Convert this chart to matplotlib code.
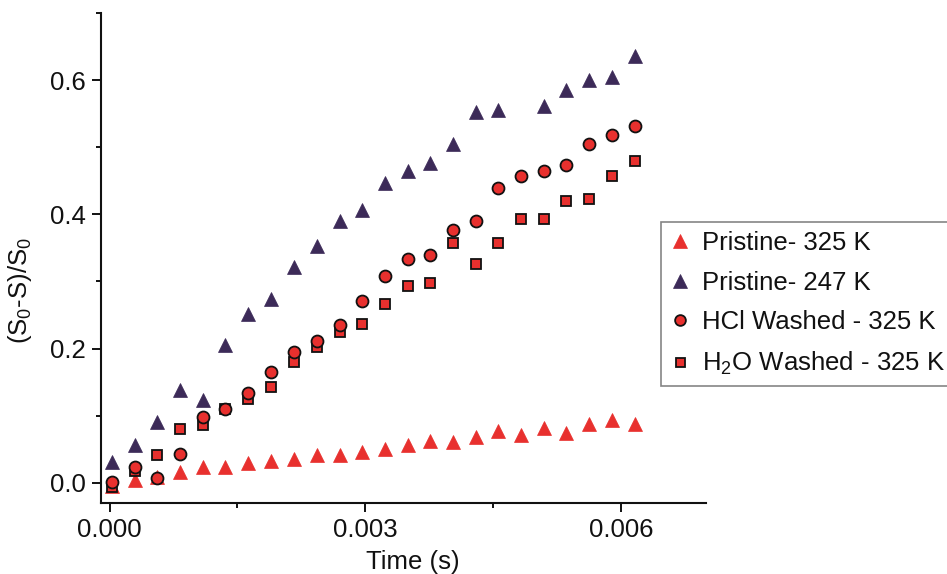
import numpy as np
import matplotlib
matplotlib.use("Agg")
import matplotlib.pyplot as plt
from matplotlib.ticker import MultipleLocator, FormatStrFormatter

plt.rcParams["font.family"] = ["Liberation Sans", "DejaVu Sans"]
plt.rcParams["mathtext.fontset"] = "custom"
plt.rcParams["mathtext.rm"] = "Liberation Sans"
plt.rcParams["mathtext.it"] = "Liberation Sans:italic"

# Sampling times (s)
time_s = [0.00003, 0.00030, 0.00056, 0.00083, 0.00110, 0.00136, 0.00163, 0.00190,
          0.00216, 0.00243, 0.00270, 0.00296, 0.00323, 0.00350, 0.00376, 0.00403,
          0.00430, 0.00456, 0.00483, 0.00510, 0.00536, 0.00563, 0.00590, 0.00616]

# (S0-S)/S0 for each sample
pristine_325 = [-0.005, 0.005, 0.008, 0.016, 0.023, 0.024, 0.029, 0.032,
                0.036, 0.042, 0.041, 0.046, 0.051, 0.057, 0.063, 0.061,
                0.069, 0.077, 0.072, 0.082, 0.075, 0.087, 0.093, 0.087]
pristine_247 = [0.031, 0.056, 0.090, 0.139, 0.124, 0.206, 0.251, 0.274,
                0.321, 0.353, 0.390, 0.406, 0.446, 0.465, 0.477, 0.505,
                0.552, 0.556, np.nan, 0.562, 0.585, 0.600, 0.605, 0.636]
hcl_325 = [0.001, 0.023, 0.007, 0.043, 0.098, 0.110, 0.134, 0.165,
           0.195, 0.211, 0.235, 0.271, 0.308, 0.334, 0.340, 0.377,
           0.390, 0.440, 0.457, 0.464, 0.474, 0.505, 0.518, 0.531]
h2o_325 = [-0.006, 0.018, 0.042, 0.080, 0.086, 0.110, 0.125, 0.143,
           0.180, 0.203, 0.224, 0.236, 0.267, 0.293, 0.297, 0.358,
           0.326, 0.357, 0.393, 0.393, 0.420, 0.423, 0.457, 0.479]

series_labels = ["Pristine- 325 K", "Pristine- 247 K",
                 "HCl Washed - 325 K", r"H$_2$O Washed - 325 K"]

red = "#e8302e"
purple = "#3c2a58"
fs = 18.5

fig = plt.figure(figsize=(9.47, 5.74), dpi=100)
fig.patch.set_facecolor("white")
ax = fig.add_axes([0.1067, 0.1237, 0.6389, 0.8537])

h_p325, = ax.plot(time_s, pristine_325, ls="none", marker="^", ms=10.5,
                  mfc=red, mec=red, mew=0.5, label=series_labels[0])
h_p247, = ax.plot(time_s, pristine_247, ls="none", marker="^", ms=10.5,
                  mfc=purple, mec=purple, mew=0.5, label=series_labels[1])
h_h2o, = ax.plot(time_s, h2o_325, ls="none", marker="s", ms=7.2,
                 mfc=red, mec="#111111", mew=1.3, label=series_labels[3])
h_hcl, = ax.plot(time_s, hcl_325, ls="none", marker="o", ms=8.6,
                 mfc=red, mec="#111111", mew=1.3, label=series_labels[2])

ax.set_xlim(-0.0001, 0.007)
ax.set_ylim(-0.03, 0.7)

for side in ("top", "right"):
    ax.spines[side].set_visible(False)
for side in ("left", "bottom"):
    ax.spines[side].set_linewidth(1.5)
    ax.spines[side].set_color("#111111")

ax.xaxis.set_major_locator(MultipleLocator(0.003))
ax.xaxis.set_minor_locator(MultipleLocator(0.0015))
ax.xaxis.set_major_formatter(FormatStrFormatter("%.3f"))
ax.yaxis.set_major_locator(MultipleLocator(0.2))
ax.yaxis.set_minor_locator(MultipleLocator(0.1))
ax.yaxis.set_major_formatter(FormatStrFormatter("%.1f"))

ax.tick_params(which="major", direction="out", length=6.7, width=1.4,
               labelsize=fs, pad=4, color="#111111", labelcolor="#111111")
ax.tick_params(which="minor", direction="out", length=3.8, width=1.4,
               color="#111111")

ax.set_xlabel("Time (s)", fontsize=fs, color="#111111")
ax.set_ylabel(r"(S$_0$-S)/S$_0$", fontsize=fs, color="#111111")
ax.xaxis.set_label_coords(0.516, -0.096)
ax.yaxis.set_label_coords(-0.11, 0.433)

leg = fig.legend(handles=[h_p325, h_p247, h_hcl, h_h2o],
                 loc="upper left", bbox_to_anchor=(0.6977, 0.6127),
                 borderaxespad=0, fontsize=fs, frameon=True, fancybox=False,
                 handlelength=0.8, handletextpad=0.45, borderpad=0.35,
                 labelspacing=0.6, numpoints=1, markerscale=0.9)
leg.get_frame().set_edgecolor("#666666")
leg.get_frame().set_linewidth(1.2)
for t in leg.get_texts():
    t.set_color("#111111")

fig.savefig("out.png", dpi=100, facecolor="white")
